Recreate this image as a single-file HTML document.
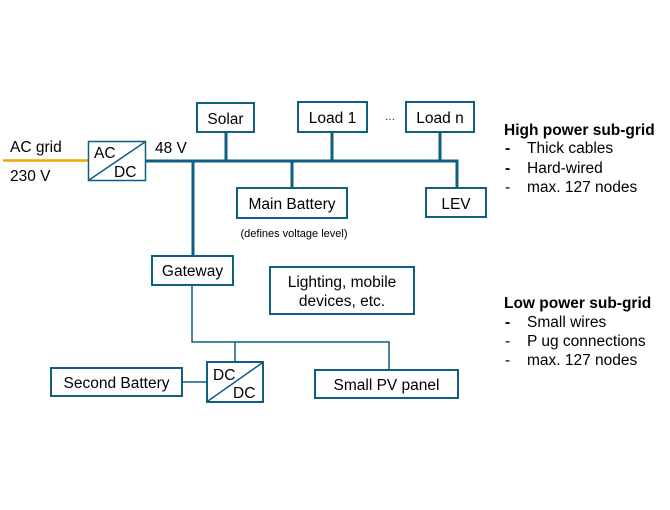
<!DOCTYPE html>
<html><head><meta charset="utf-8"><style>
html,body{margin:0;padding:0;background:#fff;}
svg{display:block;font-family:"Liberation Sans",Arial,sans-serif;}
</style></head><body>
<svg width="670" height="510" viewBox="0 0 670 510" xmlns="http://www.w3.org/2000/svg">
<g fill="none" stroke="#0f5f82">
<line x1="3" y1="160.5" x2="88" y2="160.5" stroke="#f0a500" stroke-width="2.5"/>
<polyline points="145,161 457,161 457,189" stroke-width="3"/>
<line x1="193" y1="161" x2="193" y2="257" stroke-width="3"/>
<line x1="226" y1="132" x2="226" y2="161" stroke-width="3"/>
<line x1="332" y1="132" x2="332" y2="161" stroke-width="3"/>
<line x1="440" y1="132" x2="440" y2="161" stroke-width="3"/>
<line x1="292" y1="161" x2="292" y2="189" stroke-width="3"/>
<polyline points="192,285 192,342 389,342 389,370" stroke-width="1.5"/>
<line x1="235" y1="342" x2="235" y2="362" stroke-width="1.5"/>
<line x1="182" y1="382" x2="207" y2="382" stroke-width="1.5"/>
<g stroke-width="2" fill="#fff">
<rect x="88.5" y="141.5" width="57" height="39" stroke-width="1.5"/>
<rect x="197" y="103" width="57" height="29"/>
<rect x="298" y="102" width="69" height="30"/>
<rect x="406" y="102" width="68" height="30"/>
<rect x="237" y="188" width="110" height="30"/>
<rect x="426" y="188" width="60" height="29"/>
<rect x="152" y="256" width="81" height="29"/>
<rect x="270" y="267" width="144" height="47"/>
<rect x="207" y="362" width="56" height="40"/>
<rect x="51" y="368" width="131" height="28"/>
<rect x="315" y="370" width="143" height="28"/>
</g>
<line x1="89" y1="180" x2="145" y2="142" stroke-width="1.5"/>
<line x1="208" y1="401" x2="262" y2="363" stroke-width="1.5"/>
</g>
<g fill="#000" font-size="15.5">
<text x="10" y="152">AC grid</text>
<text x="10" y="181">230 V</text>
<text x="94" y="158">AC</text>
<text x="114" y="177">DC</text>
<text x="155" y="153">48 V</text>
<text x="225.5" y="124" text-anchor="middle">Solar</text>
<text x="332.5" y="123" text-anchor="middle">Load 1</text>
<text x="440" y="123" text-anchor="middle">Load n</text>
<text x="390" y="122" text-anchor="middle" font-size="10">···</text>
<text x="292" y="209" text-anchor="middle">Main Battery</text>
<text x="456" y="209" text-anchor="middle">LEV</text>
<text x="294" y="237" text-anchor="middle" font-size="11">(defines voltage level)</text>
<text x="192.5" y="276" text-anchor="middle">Gateway</text>
<text x="342" y="287" text-anchor="middle">Lighting, mobile</text>
<text x="342" y="306" text-anchor="middle">devices, etc.</text>
<text x="213" y="380">DC</text>
<text x="233" y="398">DC</text>
<text x="116.5" y="388" text-anchor="middle">Second Battery</text>
<text x="386.5" y="390" text-anchor="middle">Small PV panel</text>
<text x="504" y="135" font-weight="bold">High power sub-grid</text>
<text x="505" y="153" font-weight="bold">-</text><text x="527" y="153">Thick cables</text>
<text x="505" y="173" font-weight="bold">-</text><text x="527" y="173">Hard-wired</text>
<text x="505" y="192">-</text><text x="527" y="192">max. 127 nodes</text>
<text x="504" y="308" font-weight="bold">Low power sub-grid</text>
<text x="505" y="327" font-weight="bold">-</text><text x="527" y="327">Small wires</text>
<text x="505" y="346">-</text><text x="527" y="346">P ug connections</text>
<text x="505" y="365">-</text><text x="527" y="365">max. 127 nodes</text>
</g>
</svg>
</body></html>
